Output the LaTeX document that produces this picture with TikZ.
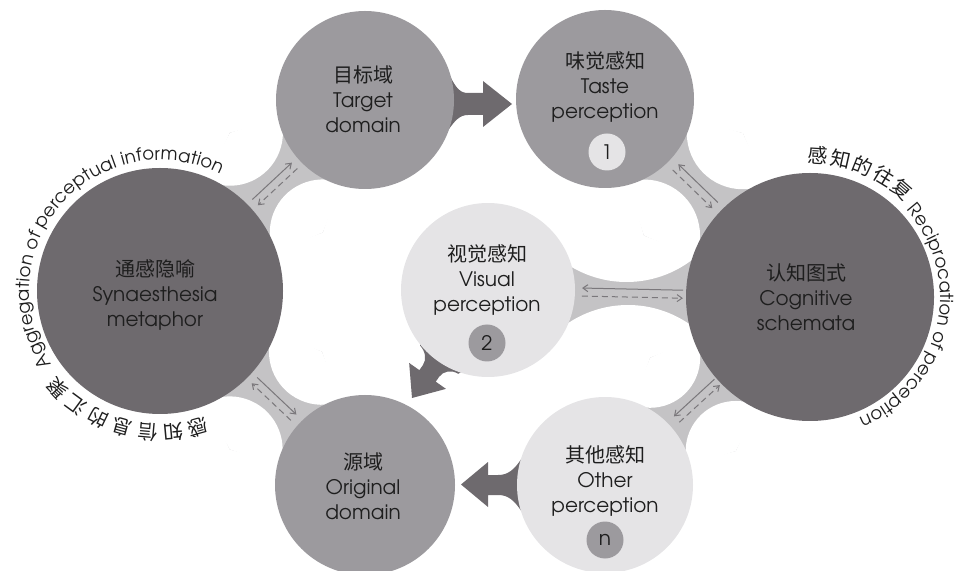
\documentclass[tikz,border=0pt]{standalone}
\usepackage{fontspec}
\setmainfont{texgyreadventor-regular.otf}
\newfontfamily\cjk{Noto Sans CJK SC}
\usetikzlibrary{calc,decorations.text,arrows.meta}
\pgfdeclarelayer{bg}
\pgfsetlayers{bg,main}
\definecolor{midg}{HTML}{9C9A9E}
\definecolor{darkg}{HTML}{6E6A6E}
\definecolor{lightg}{HTML}{E5E4E6}
\definecolor{bandg}{HTML}{C4C3C5}
\definecolor{arrg}{HTML}{7A777B}
\definecolor{txt}{HTML}{1E1E1E}
% bridge: kite a-c1-b-c2 filled, then white sectors of the cut-out circles
\newcommand\bandshape[9]{%
  \fill[bandg] (#1) -- (#2) -- (#3) -- (#4) -- cycle;
  \fill[white] (#2) -- ++(#6:#5) arc[start angle=#6,end angle=#7,radius=#5] -- cycle;
  \fill[white] (#4) -- ++(#8:#5) arc[start angle=#8,end angle=#9,radius=#5] -- cycle;}
\begin{document}
\begin{tikzpicture}[x=1pt,y=1pt,
  ball/.style={circle,inner sep=0pt,draw=none},
  lbl/.style={align=center,text=txt,inner sep=0pt,font=\fontsize{20}{25}\selectfont},
  badge/.style={circle,inner sep=0pt,minimum size=37pt,text=txt,font=\fontsize{20}{24}\selectfont},
  sarr/.style={draw=arrg,line width=1pt,-{Straight Barb[length=5pt,width=7pt]}},
  darr/.style={sarr,dash pattern=on 6pt off 4pt},
  bigarr/.style={fill=darkg}]
\useasboundingbox (0,0) rectangle (957,570);
% main circles
\node[ball,fill=darkg,minimum size=246pt] (syn) at (160,279) {};
\node[ball,fill=midg,minimum size=178pt] (tgt) at (365,470) {};
\node[ball,fill=midg,minimum size=178pt] (tst) at (605,471) {};
\node[ball,fill=darkg,minimum size=248pt] (cog) at (810,273) {};
\node[ball,fill=lightg,minimum size=174pt] (vis) at (488,280) {};
\node[ball,fill=midg,minimum size=180pt] (ori) at (365,85) {};
\node[ball,fill=lightg,minimum size=176pt] (oth) at (605,85) {};
% cut-out circle centres of the bridges
\coordinate (w1a) at (322.79,337.55); \coordinate (w1b) at (229.91,437.25);
\coordinate (w2a) at (229.61,120.62); \coordinate (w2b) at (321.97,218.22);
\coordinate (w3a) at (644.02,334.46); \coordinate (w3b) at (742.82,436.74);
\coordinate (w4a) at (626.5,396);     \coordinate (w4b) at (628,157);
\coordinate (w5a) at (735.64,119.01); \coordinate (w5b) at (650.16,212.21);
\begin{pgfonlayer}{bg}
\bandshape{vis.center}{w4a}{cog.center}{w4b}{108}{217}{329}{29.5}{141.7}
\bandshape{tst.center}{w3a}{cog.center}{w3b}{56}{-23}{109}{163}{295}
\bandshape{syn.center}{w1a}{tgt.center}{w1b}{53}{69}{203}{-117}{17}
\bandshape{syn.center}{w2a}{ori.center}{w2b}{53}{-18}{117}{156}{291}
\bandshape{cog.center}{w5a}{oth.center}{w5b}{50}{61}{198}{-113}{24}
% big arrows
\fill[bigarr] (430,500) -- (450,494) .. controls (456,482) and (460,477) .. (468,477)
  -- (483,477) -- (483,489) -- (512,466) -- (483,443) -- (483,455) -- (468,455)
  .. controls (460,455) and (455,450) .. (447,438) -- (430,432) -- cycle;
\fill[bigarr] (535,115) -- (522,112) .. controls (514,100) and (508,95) .. (498,95)
  -- (488,95) -- (488,108) -- (461,85.5) -- (488,63) -- (488,75) -- (498,75)
  .. controls (508,75) and (514,70) .. (522,58) -- (535,55) -- cycle;
\fill[bigarr] (471.1,203.82) -- (458.2,196.2) .. controls (451.58,200.43) and (443.21,198.97) .. (439.18,193.24)
  -- (435.73,188.33) -- (445.96,181.13) -- (412,172) -- (409.14,207.05) -- (419.37,199.85)
  -- (422.82,204.76) .. controls (426.85,210.49) and (425.40,218.85) .. (420,224.5)
  -- (422.0,238.36) -- cycle;
\end{pgfonlayer}
% labels
\node[lbl] (tgt-l) at (363,471) {{\cjk 目标域}\\Target\\domain};
\node[lbl] (tst-l) at (605,483) {{\cjk 味觉感知}\\Taste\\perception};
\node[lbl] (syn-l) at (155,275) {{\cjk 通感隐喻}\\Synaesthesia\\metaphor};
\node[lbl] (cog-l) at (806,273) {{\cjk 认知图式}\\Cognitive\\schemata};
\node[lbl] (vis-l) at (487,290) {{\cjk 视觉感知}\\Visual\\perception};
\node[lbl] (ori-l) at (363,84) {{\cjk 源域}\\Original\\domain};
\node[lbl] (oth-l) at (605,89) {{\cjk 其他感知}\\Other\\perception};
\node[badge,fill=lightg] (b1) at (607,418) {1};
\node[badge,fill=midg] (b2) at (487,227) {2};
\node[badge,fill=midg] (bn) at (605,30) {n};
% small two-way arrows
\draw[sarr] ($(syn.center)!130pt!(tgt.center)!4pt!90:(tgt.center)$) -- ($(syn.center)!184pt!(tgt.center)!4pt!90:(tgt.center)$);
\draw[darr] ($(syn.center)!184pt!(tgt.center)!4pt!-90:(tgt.center)$) -- ($(syn.center)!130pt!(tgt.center)!4pt!-90:(tgt.center)$);
\draw[sarr] ($(syn.center)!130pt!(ori.center)!4pt!90:(ori.center)$) -- ($(syn.center)!184pt!(ori.center)!4pt!90:(ori.center)$);
\draw[darr] ($(syn.center)!184pt!(ori.center)!4pt!-90:(ori.center)$) -- ($(syn.center)!130pt!(ori.center)!4pt!-90:(ori.center)$);
\draw[sarr] ($(tst.center)!153pt!(cog.center)!4pt!90:(cog.center)$) -- ($(tst.center)!98pt!(cog.center)!4pt!90:(cog.center)$);
\draw[darr] ($(tst.center)!98pt!(cog.center)!4pt!-90:(cog.center)$) -- ($(tst.center)!153pt!(cog.center)!4pt!-90:(cog.center)$);
\draw[sarr] ($(vis.center)!195pt!(cog.center)!4pt!90:(cog.center)$) -- ($(vis.center)!94pt!(cog.center)!4pt!90:(cog.center)$);
\draw[darr] ($(vis.center)!94pt!(cog.center)!4pt!-90:(cog.center)$) -- ($(vis.center)!195pt!(cog.center)!4pt!-90:(cog.center)$);
\draw[sarr] ($(cog.center)!126pt!(oth.center)!4pt!-90:(oth.center)$) -- ($(cog.center)!181pt!(oth.center)!4pt!-90:(oth.center)$);
\draw[darr] ($(cog.center)!181pt!(oth.center)!4pt!90:(oth.center)$) -- ($(cog.center)!126pt!(oth.center)!4pt!90:(oth.center)$);
% curved captions
\path[decorate,decoration={text along path,text align=fit to path,
  text={|\cjk\fontsize{20}{20}\selectfont\color{txt}|感知信息的汇聚}}]
  ($(syn.center)+(-70:134)$) arc[start angle=-70,end angle=-141,radius=134];
\path[decorate,decoration={text along path,text align=fit to path,
  text={|\fontsize{18}{18}\selectfont\color{txt}|Aggregation of perceptual information}}]
  ($(syn.center)+(-146:131)$) arc[start angle=-146,end angle=-297.4,radius=131];
\path[decorate,decoration={text along path,text align=fit to path,
  text={|\cjk\fontsize{20}{20}\selectfont\color{txt}|感知的往复}}]
  ($(cog.center)+(91:134)$) arc[start angle=91,end angle=45,radius=134];
\path[decorate,decoration={text along path,text align=fit to path,
  text={|\fontsize{18}{18}\selectfont\color{txt}|Reciprocation of perception}}]
  ($(cog.center)+(42:130)$) arc[start angle=42,end angle=-68,radius=130];
\end{tikzpicture}
\end{document}
